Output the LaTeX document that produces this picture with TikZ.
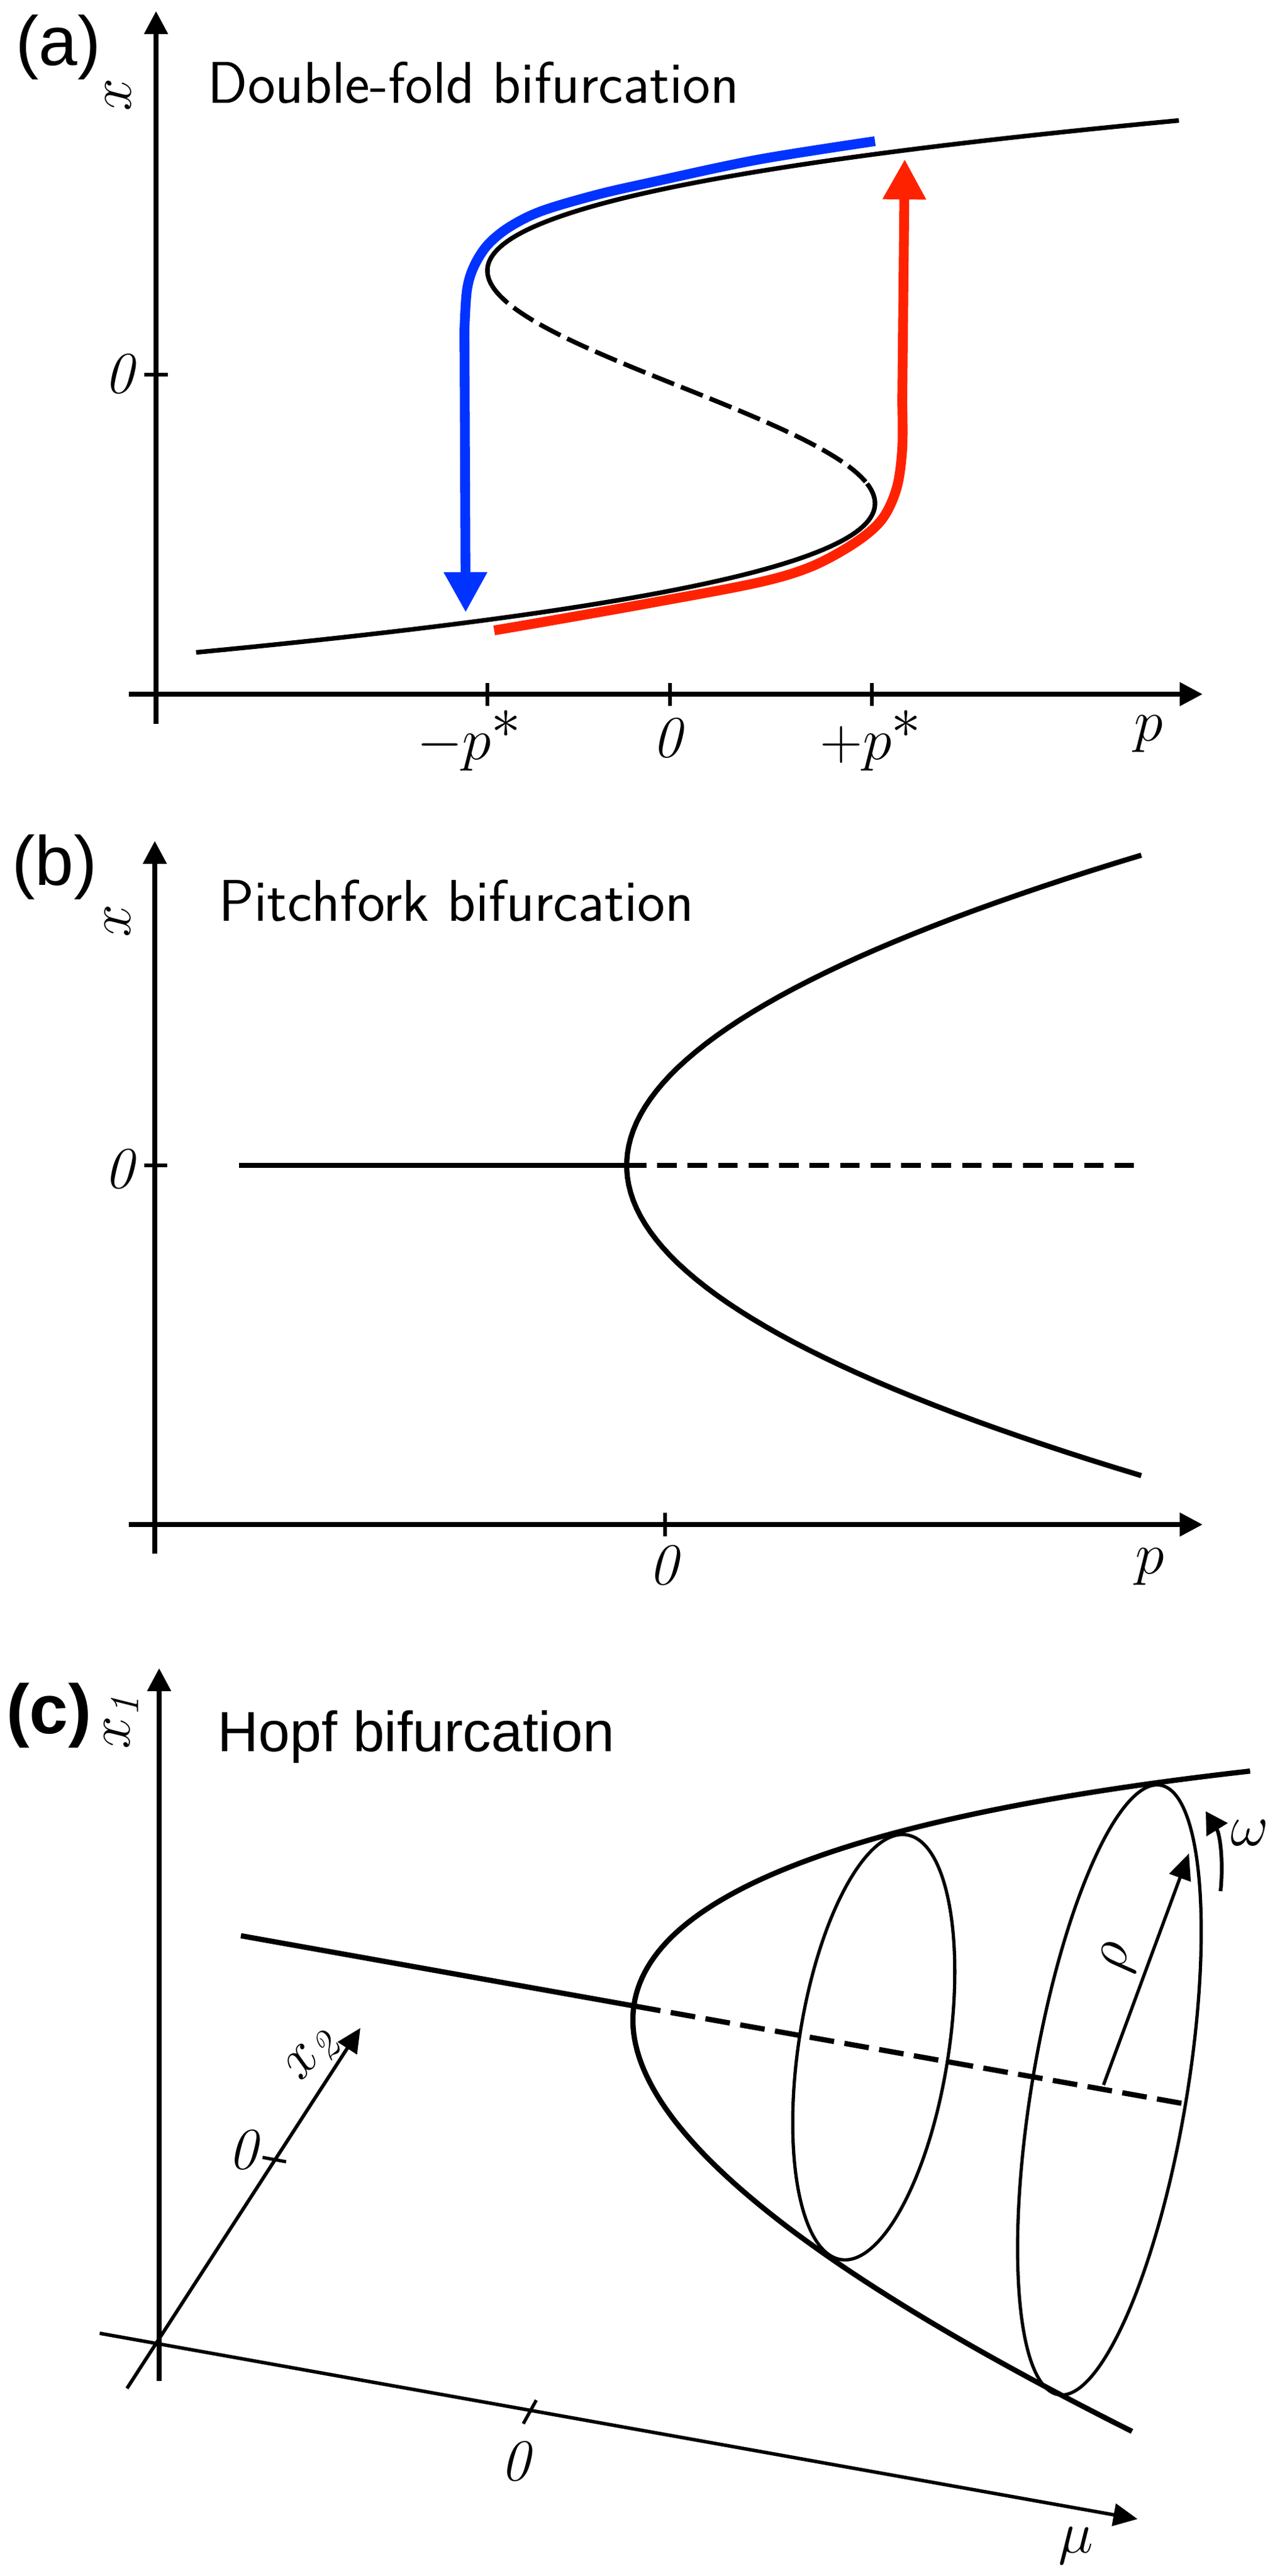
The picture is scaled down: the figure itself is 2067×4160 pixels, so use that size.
\RequirePackage{fix-cm}
\documentclass[tikz,border=0pt]{standalone}
\usepackage{fontspec}
\newfontfamily\helv{Liberation Sans}
\usetikzlibrary{arrows.meta}
\definecolor{jumpblue}{RGB}{0,51,255}
\definecolor{jumpred}{RGB}{255,34,0}

\begin{document}
\begin{tikzpicture}[x=0.01cm, y=-0.01cm,
	axis/.style={line width=2.1pt, -{Triangle[length=3.7mm,width=3.7mm]}},
	axisthin/.style={line width=1.6pt, -{Triangle[length=3.9mm,width=3.6mm]}},
	tick/.style={line width=1.5pt},
	branch/.style={line width=2.1pt},
	fat/.style={line width=2.4pt},
	orbit/.style={line width=1.5pt},
	jump/.style={line width=4.5pt, -{Triangle[length=6.5mm,width=6.6mm]}},
	lbl/.style={inner sep=0pt, font=\fontsize{27}{32}\selectfont},
	panel/.style={inner sep=0pt, font=\helv\fontsize{32}{38}\selectfont},
	title/.style={inner sep=0pt, anchor=base west, font=\sffamily\fontsize{27}{32}\selectfont}]
			\useasboundingbox (0,0) rectangle (2067,4160);
			
			%%%%% (a) DOUBLE FOLD %%%%%
			\node[panel] (pa) at (94,76) {(a)};
			\node[title] (ta) at (335,166) {Double-fold bifurcation};
			\draw[axis] (252,1169) -- (252,18);
			\draw[axis] (208,1121) -- (1942,1121);
			\node[lbl, rotate=90] (xa) at (191,153) {$x$};
			\draw[tick] (233,605) -- (271,605);
			\node[lbl] (za) at (192,604) {$\mathit{0}$};
			\foreach \px in {787, 1082, 1408} \draw[tick] (\px,1103) -- (\px,1140);
			\node[lbl] (pm) at (758,1196) {$-p^{\textstyle\ast}$};
			\node[lbl] (pz) at (1077,1192) {$\mathit{0}$};
			\node[lbl] (pp) at (1407,1196) {$+p^{\textstyle\ast}$};
			\node[lbl] (pa) at (1855,1185) {$p$};
			
			\draw[jump, jumpblue] plot[smooth, tension=0.55] coordinates {(1413,228) (1223,258) (1049,295) (962,315) (874,341) (822,367) (787,396) (765,431) (754,469) (750,533)} -- (752,989);
			\draw[jump, jumpred] plot[smooth, tension=0.55] coordinates {(798,1018) (874,1005) (1049,974) (1223,941) (1310,915) (1380,877) (1424,839) (1448,788) (1457,724) (1457,650)} -- (1461,257);
			
			\draw[branch] plot[domain=0.87:2.29, samples=60] ({1100+156.5*(\x*\x*\x-3*\x)}, {625-188*\x});
			\draw[branch, dash pattern=on 10.8pt off 3.4pt] plot[domain=0.87:-0.83, samples=60] ({1100+156.5*(\x*\x*\x-3*\x)}, {625-188*\x});
			\draw[branch] plot[domain=-0.83:-2.28, samples=60] ({1100+156.5*(\x*\x*\x-3*\x)}, {625-188*\x});
			
			%%%%% (b) PITCHFORK %%%%%
			\node[panel] (pb) at (88,1400) {(b)};
			\node[title] (tb) at (353,1487) {Pitchfork bifurcation};
			\draw[axis] (250,2509) -- (250,1358);
			\draw[axis] (208,2462) -- (1942,2462);
			\node[lbl, rotate=90] (xb) at (190,1487) {$x$};
			\draw[tick] (233,1882) -- (270,1882);
			\node[lbl] (zb) at (192,1888) {$\mathit{0}$};
			\draw[tick] (1074,2443) -- (1074,2481);
			\node[lbl] (pzb) at (1071,2528) {$\mathit{0}$};
			\node[lbl] (ppb) at (1857,2530) {$p$};
			
			\draw[fat] (386,1882) -- (1012,1882);
			\draw[fat, dash pattern=on 9pt off 5pt] (1012,1882) -- (1839,1882);
			\draw[fat] plot[domain=-5.01:5.01, samples=80] ({1012+33.11*\x*\x}, {1882+100*\x});
			
			%%%%% (c) HOPF %%%%%
			\node[panel, font=\helv\bfseries\fontsize{32}{38}\selectfont] (pc) at (79,2770) {(c)};
			\node[title, font=\helv\fontsize{26}{31}\selectfont] (tc) at (351,2828) {Hopf bifurcation};
			\draw[axis] (257,3845) -- (257,2694);
			\node[lbl, rotate=90] (xc) at (196,2781) {$x_{\mathit{1}}$};
			\draw[axisthin] (161,3768) -- (1837,4068);
			\draw[axisthin] (205,3857) -- (582,3275);
			\draw[tick] (845,3914) -- (866,3876);
			\node[lbl] (zmu) at (832,3975) {$\mathit{0}$};
			\node[lbl] (mu) at (1737,4111) {$\mu$};
			\draw[tick] (424,3484) -- (462,3491);
			\node[lbl] (zx) at (392,3472) {$\mathit{0}$};
			\node[lbl, rotate=50] (xd) at (505,3321) {$x_{\mathit{2}}$};
			
			\draw[fat] (389,3126) -- (1027,3240);
			\draw[fat, dash pattern=on 11.4pt off 4.8pt] (1027,3240) -- (1916,3398);
			\draw[fat] plot[domain=-31.57:28.39, samples=120] ({1022+\x*\x}, {3262+0.178*\x*\x+18.35*\x});
			
			\draw[orbit, rotate around={-8.8:(1411,3306)}] (1411,3306) ellipse [x radius=121, y radius=347];
			\draw[orbit, rotate around={-9.5:(1791.5,3375)}] (1791.5,3375) ellipse [x radius=125, y radius=499];
			
			\draw[orbit, -{Triangle[length=4.2mm,width=3.6mm]}] (1782,3367) -- (1920,2993);
			\node[lbl, rotate=80] (rho) at (1808,3162) {$\rho$};
			\draw[line width=1.7pt, -{Triangle[length=3.5mm,width=3.9mm]}] (1971,3054) .. controls (1976,3005) and (1970,2962) .. (1947,2925);
			\node[lbl] (om) at (2018,2960) {$\omega$};
			%%%%% END %%%%%
		\end{tikzpicture}
\end{document}
